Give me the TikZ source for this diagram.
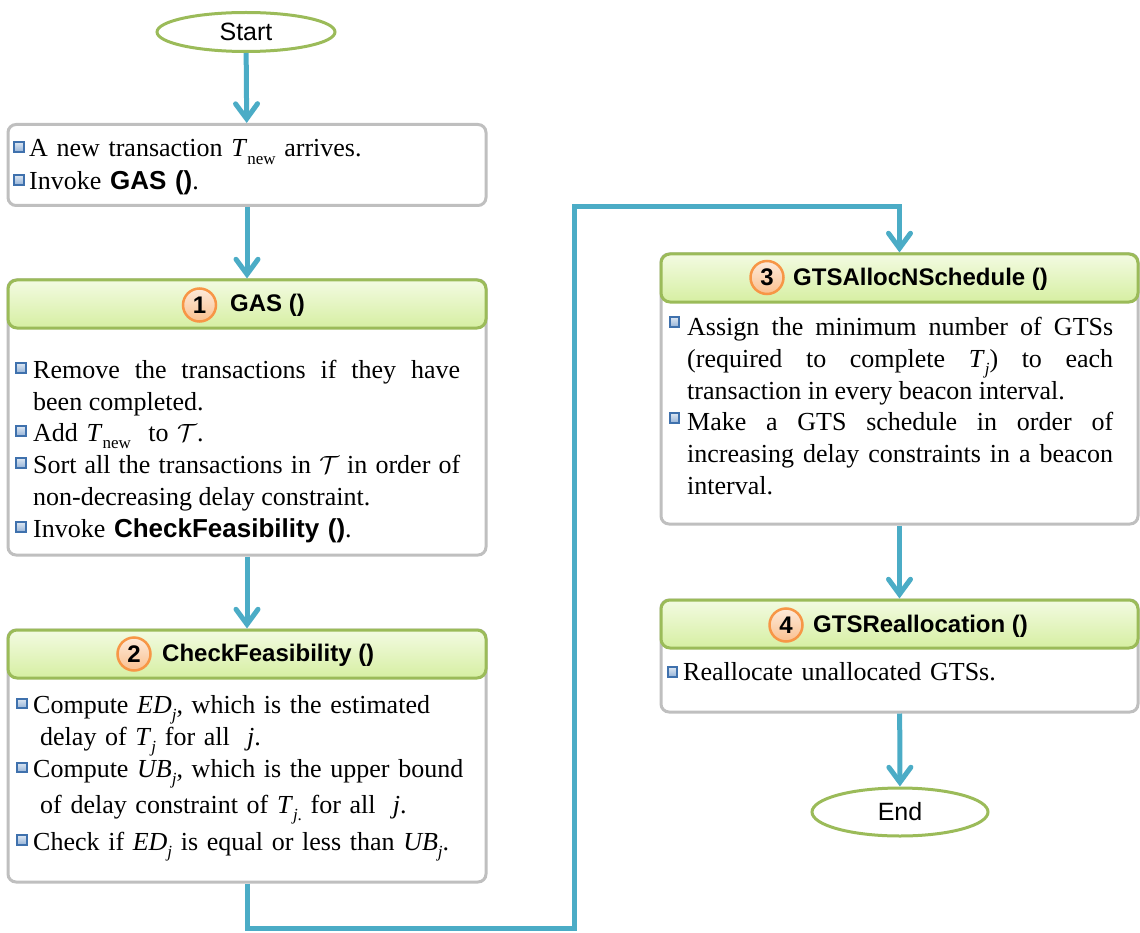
\documentclass[tikz,border=0pt]{standalone}
\usepackage{fontspec}
\setmainfont{Liberation Serif}
\newfontfamily\headfont{Liberation Sans}
\usetikzlibrary{arrows.meta,shapes.geometric}

\definecolor{flowc}{HTML}{4BACC6}
\definecolor{framec}{HTML}{BFBFBF}
\definecolor{hdrline}{HTML}{9BBB59}
\definecolor{hdrtop}{HTML}{F3FBE2}
\definecolor{hdrbot}{HTML}{D6EFA2}
\definecolor{numline}{HTML}{F79646}
\definecolor{numtop}{HTML}{FDEADA}
\definecolor{numbot}{HTML}{FAC08F}
\definecolor{bulline}{HTML}{3F71AD}
\definecolor{bultop}{HTML}{DCE6F2}
\definecolor{bulbot}{HTML}{95B3D7}

% lowered, smaller subscript set in text fonts
\newcommand\lsub[1]{\raisebox{-0.28em}{\fontsize{17}{17}\selectfont #1}}
\newcommand\calT{$\mathcal{T}$}

\tikzset{
  x=1pt, y=-1pt,
  flow/.style={line width=5pt, draw=flowc,
    -{Straight Barb[length=15pt,width=22pt,line cap=round]}},
  panel/.style={draw=framec, line width=3pt, rounded corners=8pt, fill=white,
    inner sep=0pt},
  header/.style={draw=hdrline, line width=3pt, rounded corners=9pt,
    top color=hdrtop, bottom color=hdrbot, inner sep=0pt},
  terminal/.style={ellipse, draw=hdrline, line width=3pt, fill=white, inner sep=0pt,
    font=\headfont\fontsize{25}{25}\selectfont},
  numdisc/.style={circle, draw=numline, line width=2.5pt, top color=numtop,
    bottom color=numbot, minimum size=33pt, inner sep=0pt,
    font=\headfont\bfseries\fontsize{24}{24}\selectfont},
  htitle/.style={anchor=west, inner sep=0pt,
    font=\headfont\bfseries\fontsize{24}{24}\selectfont},
  bul/.style={rectangle, draw=bulline, line width=2.2pt, top color=bultop,
    bottom color=bulbot, minimum size=9.5pt, inner sep=0pt},
  para/.style={anchor=base west, inner sep=0pt, text width=427pt,
    font=\fontsize{26}{32}\selectfont},
  jpara/.style={para, align=justify},
  lpara/.style={para, align=left},
}

\begin{document}
\begin{tikzpicture}
\useasboundingbox (0,0) rectangle (1140,933);

% terminals
\node[terminal, minimum width=178pt, minimum height=39pt] (start) at (246,32) {Start};
\node[terminal, minimum width=176pt, minimum height=48pt] (end) at (900,812) {End};

% panel 0: entry
\node[panel, minimum width=478pt, minimum height=81pt] (b0) at (247,165) {};
\node[bul] (u01) at (19,147) {};
\node[bul] (u02) at (19,180) {};
\node[lpara] (t01) at (29,157) {A new transaction \textit{T}\lsub{new} arrives.};
\node[lpara] (t02) at (29,190) {Invoke {\headfont\bfseries GAS ()}.};

% panel 1: GAS
\node[panel, minimum width=478pt, minimum height=275pt] (b1) at (247,417.5) {};
\node[header, minimum width=478pt, minimum height=48pt] (h1) at (247,304) {};
\node[numdisc] (n1) at (199.5,305) {1};
\node[htitle] (g1) at (230,305) {GAS ()};
\node[bul] (u11) at (21,368) {};
\node[bul] (u12) at (21,431) {};
\node[bul] (u13) at (21,463) {};
\node[bul] (u14) at (21,527) {};
\node[jpara] (t11) at (33,378) {Remove the transactions if they have\linebreak been completed.};
\node[lpara] (t12) at (33,441) {Add \textit{T}\lsub{new} \ to \calT.};
\node[jpara] (t13) at (33,473) {Sort all the transactions in \calT\ in order of\linebreak non-decreasing delay constraint.};
\node[lpara] (t14) at (33,537) {Invoke {\headfont\bfseries CheckFeasibility ()}.};

% panel 2: CheckFeasibility
\node[panel, minimum width=478pt, minimum height=252pt] (b2) at (247,756) {};
\node[header, minimum width=478pt, minimum height=48pt] (h2) at (247,654) {};
\node[numdisc] (n2) at (134,654) {2};
\node[htitle] (g2) at (162,655) {CheckFeasibility ()};
\node[bul] (u21) at (22,703.5) {};
\node[bul] (u22) at (22,767.5) {};
\node[bul] (u23) at (22,840) {};
\node[lpara, text width=445pt] (t21) at (33,713) {Compute \textit{ED}\lsub{\textit{j}}, which is the estimated\\
  \hspace*{7pt}delay of \textit{T}\lsub{\textit{j}} for all \ \textit{j}.};
\node[lpara, text width=445pt] (t22) at (33,777) {Compute \textit{UB}\lsub{\textit{j}}, which is the upper bound\\[4pt]
  \hspace*{7pt}of delay constraint of \textit{T}\lsub{\textit{j}.} for all \ \textit{j}.};
\node[lpara, text width=445pt] (t23) at (33,850) {Check if \textit{ED}\lsub{\textit{j}} is equal or less than \textit{UB}\lsub{\textit{j}}.};

% panel 3: GTSAllocNSchedule
\node[panel, minimum width=477pt, minimum height=270pt] (b3) at (899.5,389) {};
\node[header, minimum width=477pt, minimum height=48pt] (h3) at (899.5,278) {};
\node[numdisc] (n3) at (767,277.5) {3};
\node[htitle] (g3) at (793,279) {GTSAllocNSchedule ()};
\node[bul] (u31) at (674.5,322) {};
\node[bul] (u32) at (674.5,418) {};
\node[jpara, text width=426pt] (t31) at (687,335) {Assign the minimum number of GTSs\linebreak
  (required to complete \textit{T}\lsub{\textit{j}}) to each\linebreak
  transaction in every beacon interval.};
\node[jpara, text width=426pt] (t32) at (687,430) {Make a GTS schedule in order of\linebreak
  increasing delay constraints in a beacon\linebreak interval.};

% panel 4: GTSReallocation
\node[panel, minimum width=477pt, minimum height=112pt] (b4) at (899.5,656) {};
\node[header, minimum width=477pt, minimum height=48pt] (h4) at (899.5,624) {};
\node[numdisc] (n4) at (786,625) {4};
\node[htitle] (g4) at (813,626) {GTSReallocation ()};
\node[bul] (u41) at (672.5,672) {};
\node[lpara] (t41) at (683,680) {Reallocate unallocated GTSs.};

% connectors
\coordinate (k1) at (247,928.5);
\coordinate (k2) at (574,928.5);
\coordinate (k3) at (574,206.5);
\draw[flow] (start) -- (b0);
\draw[flow] (b0) -- (h1);
\draw[flow] (b1) -- (h2);
\draw[flow] (b2.south) -- (k1) -- (k2) -- (k3) -- (k3 -| h3.north) -- (h3.north);
\draw[flow] (b3) -- (h4);
\draw[flow] (b4) -- (end);
\end{tikzpicture}
\end{document}
